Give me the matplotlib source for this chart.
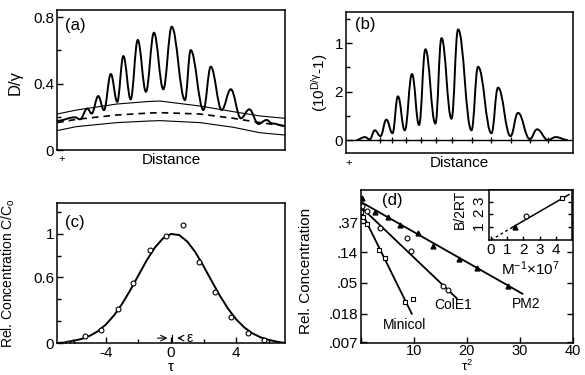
import numpy as np
import matplotlib.pyplot as plt
from matplotlib.path import Path
from matplotlib.patches import PathPatch
from matplotlib.ticker import MultipleLocator, NullLocator

plt.rcParams['font.family'] = ['Liberation Sans', 'DejaVu Sans']
plt.rcParams['mathtext.fontset'] = 'custom'
plt.rcParams['mathtext.rm'] = 'Liberation Sans'
plt.rcParams['mathtext.it'] = 'Liberation Sans'
plt.rcParams['font.size'] = 10

# ---- panel (a): densitometer trace and background curves ----
a_x = [0.1, 7.9, 10.1, 13.3, 15.2, 18.1, 20.6, 23.6, 26.4, 29.1, 32.3, 35.4, 39.0,
       42.5, 46.6, 50.3, 56.1, 58.6, 64.2, 67.4, 72.2, 76.2, 80.6, 84.3, 88.3,
       91.9, 94.3, 100]
a_y = [0.176, 0.197, 0.185, 0.25, 0.22, 0.325, 0.24, 0.458, 0.29, 0.566, 0.305,
       0.663, 0.351, 0.707, 0.366, 0.743, 0.301, 0.602, 0.241, 0.502, 0.241,
       0.366, 0.191, 0.245, 0.157, 0.181, 0.16, 0.145]
a_bg_x = [0.1, 8.6, 26.2, 40.8, 45.2, 62.7, 77.3, 89.0, 100]
a_upper = [0.217, 0.241, 0.277, 0.293, 0.295, 0.265, 0.231, 0.205, 0.191]
a_mid = [0.165, 0.185, 0.211, 0.223, 0.225, 0.217, 0.191, 0.165, 0.145]
a_lower = [0.117, 0.141, 0.165, 0.175, 0.177, 0.165, 0.137, 0.104, 0.090]

# ---- panel (b): transformed trace ----
b_x = [4.7, 8.4, 10.6, 12.8, 15.3, 17.9, 20.6, 23.0, 26.0, 29.2, 32.3, 35.1, 39.5,
       42.2, 46.6, 49.5, 55.4, 58.3, 64.2, 67.1, 72.6, 75.9, 81.1, 84.3, 89.1,
       92.5, 97.8]
b_y = [0.0, 0.03, 0.007, 0.10, 0.04, 0.21, 0.07, 0.45, 0.10, 0.68, 0.155, 0.935,
       0.17, 1.05, 0.22, 1.14, 0.10, 0.755, 0.07, 0.54, 0.04, 0.28, 0.01, 0.11,
       0.0, 0.03, 0.0]
b_marks = [15.3, 20.6, 26.7, 33.0, 39.6, 46.8, 55.8, 64.2, 73.0, 81.1, 89.1]

# ---- panel (c): concentration profile ----
c_pts_x = [-6.3, -6.05, -5.3, -4.27, -3.25, -2.33, -1.3, -0.34, 0.71, 1.73, 2.69,
           3.68, 4.74, 5.72]
c_pts_y = [0.0, 0.0, 0.06, 0.12, 0.31, 0.55, 0.85, 0.98, 1.08, 0.74, 0.47, 0.24,
           0.09, 0.03]
c_fit_x = [-7, -6.5, -6, -5.5, -5, -4.5, -4, -3.5, -3, -2.5, -2, -1.5, -1, -0.5, 0,
           0.5, 1, 1.5, 2, 2.5, 3, 3.5, 4, 4.5, 5, 5.5, 6, 6.5, 7]
c_fit_y = [0.0, 0.005, 0.02, 0.037, 0.065, 0.107, 0.169, 0.253, 0.359, 0.484,
           0.62, 0.755, 0.872, 0.957, 0.998, 0.988, 0.928, 0.829, 0.702, 0.565,
           0.432, 0.314, 0.216, 0.142, 0.088, 0.052, 0.029, 0.012, 0.0]

# ---- panel (d): semilog decay ----
pm2_x = [0.2, 2.6, 5.1, 7.4, 10.8, 13.6, 18.5, 21.9, 27.7]
pm2_y = [0.84, 0.53, 0.45, 0.34, 0.26, 0.17, 0.112, 0.083, 0.046]
cole1_x = [0.2, 1.1, 3.6, 8.7, 9.5, 15.5, 16.5]
cole1_y = [0.64, 0.55, 0.31, 0.22, 0.145, 0.045, 0.039]
minicol_x = [0.0, 0.4, 1.1, 3.4, 4.5, 8.3, 9.8]
minicol_y = [0.53, 0.45, 0.36, 0.151, 0.115, 0.027, 0.029]
pm2_fit = ([0, 30.5], [0.74, 0.035])
cole1_fit = ([0, 18.1], [0.625, 0.030])
minicol_fit = ([0, 9.6], [0.55, 0.018])
d_yticks = [0.37, 0.14, 0.05, 0.018, 0.007]
d_ylabels = ['.37', '.14', '.05', '.018', '.007']

# inset
ins_x = [1.45, 2.15, 4.4]
ins_y = [1.05, 1.85, 3.25]
ins_line_x = [0, 1.3, 4.8]
ins_line_y = [0, 0.98, 3.55]


def smooth_path(xs, ys, k=0.42):
    # cubic segments with flat tangents at each extremum
    verts = [(xs[0], ys[0])]
    codes = [Path.MOVETO]
    for i in range(len(xs) - 1):
        dx = xs[i + 1] - xs[i]
        verts += [(xs[i] + k * dx, ys[i]), (xs[i + 1] - k * dx, ys[i + 1]),
                  (xs[i + 1], ys[i + 1])]
        codes += [Path.CURVE4] * 3
    return Path(verts, codes)


def style(ax):
    for s in ax.spines.values():
        s.set_linewidth(1.1)
    ax.tick_params(direction='in', length=4, width=1, pad=2, labelsize=11)
    ax.tick_params(which='minor', direction='in', length=3, width=1)


fig = plt.figure(figsize=(5.85, 3.75), dpi=100)

# (a)
ax1 = fig.add_axes([0.0974, 0.60, 0.390, 0.373])
ax1.add_patch(PathPatch(smooth_path(a_x, a_y, 0.38), fill=False, lw=1.4, color='k'))
ax1.plot(a_bg_x, a_upper, color='k', lw=0.8)
ax1.plot(a_bg_x, a_mid, color='k', lw=1.2, ls=(0, (4, 3)))
ax1.plot(a_bg_x, a_lower, color='k', lw=0.8)
ax1.set_xlim(0, 100)
ax1.set_ylim(0, 0.843)
ax1.set_xticks([])
ax1.set_yticks([0, 0.4, 0.8])
ax1.set_yticklabels(['0', '0.4', '0.8'])
ax1.yaxis.set_minor_locator(MultipleLocator(0.2))
style(ax1)
ax1.set_xlabel('Distance', fontsize=11, labelpad=2)
ax1.set_ylabel('D/γ', fontsize=12)
ax1.yaxis.set_label_coords(-0.15, 0.48)
ax1.text(7.9, 0.753, '(a)', fontsize=12, ha='center', va='center')
ax1.text(0.02, -0.065, '+', transform=ax1.transAxes, ha='center', va='center', fontsize=8)

# (b)
ax2 = fig.add_axes([0.591, 0.592, 0.388, 0.376])
ax2.add_patch(PathPatch(smooth_path(b_x, b_y, 0.42), fill=False, lw=1.4, color='k'))
ax2.axhline(0, color='k', lw=1)
ax2.plot(b_marks, [0] * len(b_marks), ls='none', marker='+', ms=4, mew=0.9, color='k')
ax2.set_xlim(0, 100)
ax2.set_ylim(-0.134, 1.32)
ax2.set_xticks([])
ax2.set_yticks([0, 0.5, 1])
ax2.set_yticklabels(['0', '2', '1'])
ax2.yaxis.set_minor_locator(MultipleLocator(0.25))
style(ax2)
ax2.set_xlabel('Distance', fontsize=11, labelpad=2)
ax2.set_ylabel(r'(10$^{D/γ}$-1)', fontsize=11)
ax2.yaxis.set_label_coords(-0.07, 0.5)
ax2.text(8.4, 1.196, '(b)', fontsize=12, ha='center', va='center')
ax2.text(0.013, -0.07, '+', transform=ax2.transAxes, ha='center', va='center', fontsize=8)

# (c)
ax3 = fig.add_axes([0.0974, 0.0853, 0.390, 0.373])
ax3.plot(c_fit_x, c_fit_y, color='k', lw=1.4)
ax3.plot(c_pts_x, c_pts_y, ls='none', marker='o', ms=3.5, mfc='white', mec='k', mew=0.8)
ax3.set_xlim(-7, 7)
ax3.set_ylim(0, 1.28)
ax3.set_xticks([-4, 0, 4])
ax3.set_xticklabels(['-4', '0', '4'])
ax3.xaxis.set_minor_locator(MultipleLocator(2))
ax3.set_yticks([0, 0.6, 1])
ax3.set_yticklabels(['0', '0.6', '1'])
ax3.yaxis.set_minor_locator(MultipleLocator(0.2))
style(ax3)
ax3.set_xlabel('τ', fontsize=11, labelpad=0)
ax3.set_ylabel(r'Rel. Concentration C/C$_\mathrm{o}$', fontsize=10)
ax3.yaxis.set_label_coords(-0.175, 0.5)
ax3.text(-5.9, 1.10, '(c)', fontsize=12, ha='center', va='center')
ax3.annotate('', xy=(-0.05, 0.045), xytext=(-1.0, 0.045),
             arrowprops=dict(arrowstyle='->', lw=0.8, color='k'))
ax3.annotate('', xy=(0.2, 0.045), xytext=(0.8, 0.045),
             arrowprops=dict(arrowstyle='->', lw=0.8, color='k'))
ax3.plot([0.08, 0.08], [0.015, 0.075], color='k', lw=0.8)
ax3.text(0.95, 0.045, 'ε', fontsize=10, ha='left', va='center')

# (d)
ax4 = fig.add_axes([0.617, 0.0853, 0.362, 0.408])
ax4.set_yscale('log')
ax4.plot(*pm2_fit, color='k', lw=1.3)
ax4.plot(*cole1_fit, color='k', lw=1.3)
ax4.plot(*minicol_fit, color='k', lw=1.3)
ax4.plot(pm2_x, pm2_y, ls='none', marker='^', ms=3.5, color='k')
ax4.plot(cole1_x, cole1_y, ls='none', marker='o', ms=3.5, mfc='white', mec='k', mew=0.8)
ax4.plot(minicol_x, minicol_y, ls='none', marker='s', ms=3.3, mfc='white', mec='k', mew=0.8)
ax4.set_xlim(0, 40)
ax4.set_ylim(0.0068, 1.1)
ax4.set_xticks([0, 10, 20, 30, 40])
ax4.set_xticklabels(['', '10', '20', '30', '40'])
ax4.set_yticks(d_yticks)
ax4.set_yticklabels(d_ylabels)
ax4.yaxis.set_minor_locator(NullLocator())
style(ax4)
ax4.tick_params(right=True)
ax4.tick_params(axis='x', pad=1, labelsize=10.5)
ax4.set_xlabel('τ$^2$', fontsize=9.5)
ax4.xaxis.set_label_coords(0.5, -0.1)
ax4.set_ylabel('Rel. Concentration', fontsize=11)
ax4.yaxis.set_label_coords(-0.225, 0.47)
ax4.text(6.0, 0.77, '(d)', fontsize=12, ha='center', va='center')
ax4.text(8.3, 0.0124, 'Minicol', fontsize=10, ha='center', va='center')
ax4.text(17.5, 0.0238, 'ColE1', fontsize=10, ha='center', va='center')
ax4.text(31.3, 0.0252, 'PM2', fontsize=10, ha='center', va='center')

# inset of (d)
axi = fig.add_axes([0.836, 0.36, 0.142, 0.133])
axi.plot(ins_line_x[:2], ins_line_y[:2], color='k', lw=1, ls=(0, (2, 2)))
axi.plot(ins_line_x[1:], ins_line_y[1:], color='k', lw=1.1)
axi.plot(ins_x[0], ins_y[0], ls='none', marker='^', ms=3.5, color='k')
axi.plot(ins_x[1], ins_y[1], ls='none', marker='o', ms=3.5, mfc='white', mec='k', mew=0.8)
axi.plot(ins_x[2], ins_y[2], ls='none', marker='s', ms=3.3, mfc='white', mec='k', mew=0.8)
axi.set_xlim(-0.12, 5.0)
axi.set_ylim(0, 3.9)
axi.set_xticks([0, 1, 2, 3, 4])
axi.set_yticks([1, 2, 3])
style(axi)
axi.tick_params(right=True, length=3)
axi.tick_params(axis='y', labelrotation=90)
axi.set_xlabel(r'M$^{-1}$×10$^7$', fontsize=11, labelpad=2)
axi.set_ylabel('B/2RT', fontsize=10, labelpad=1)
axi.yaxis.set_label_coords(-0.27, 0.62)

fig.savefig('out.png', dpi=100)
